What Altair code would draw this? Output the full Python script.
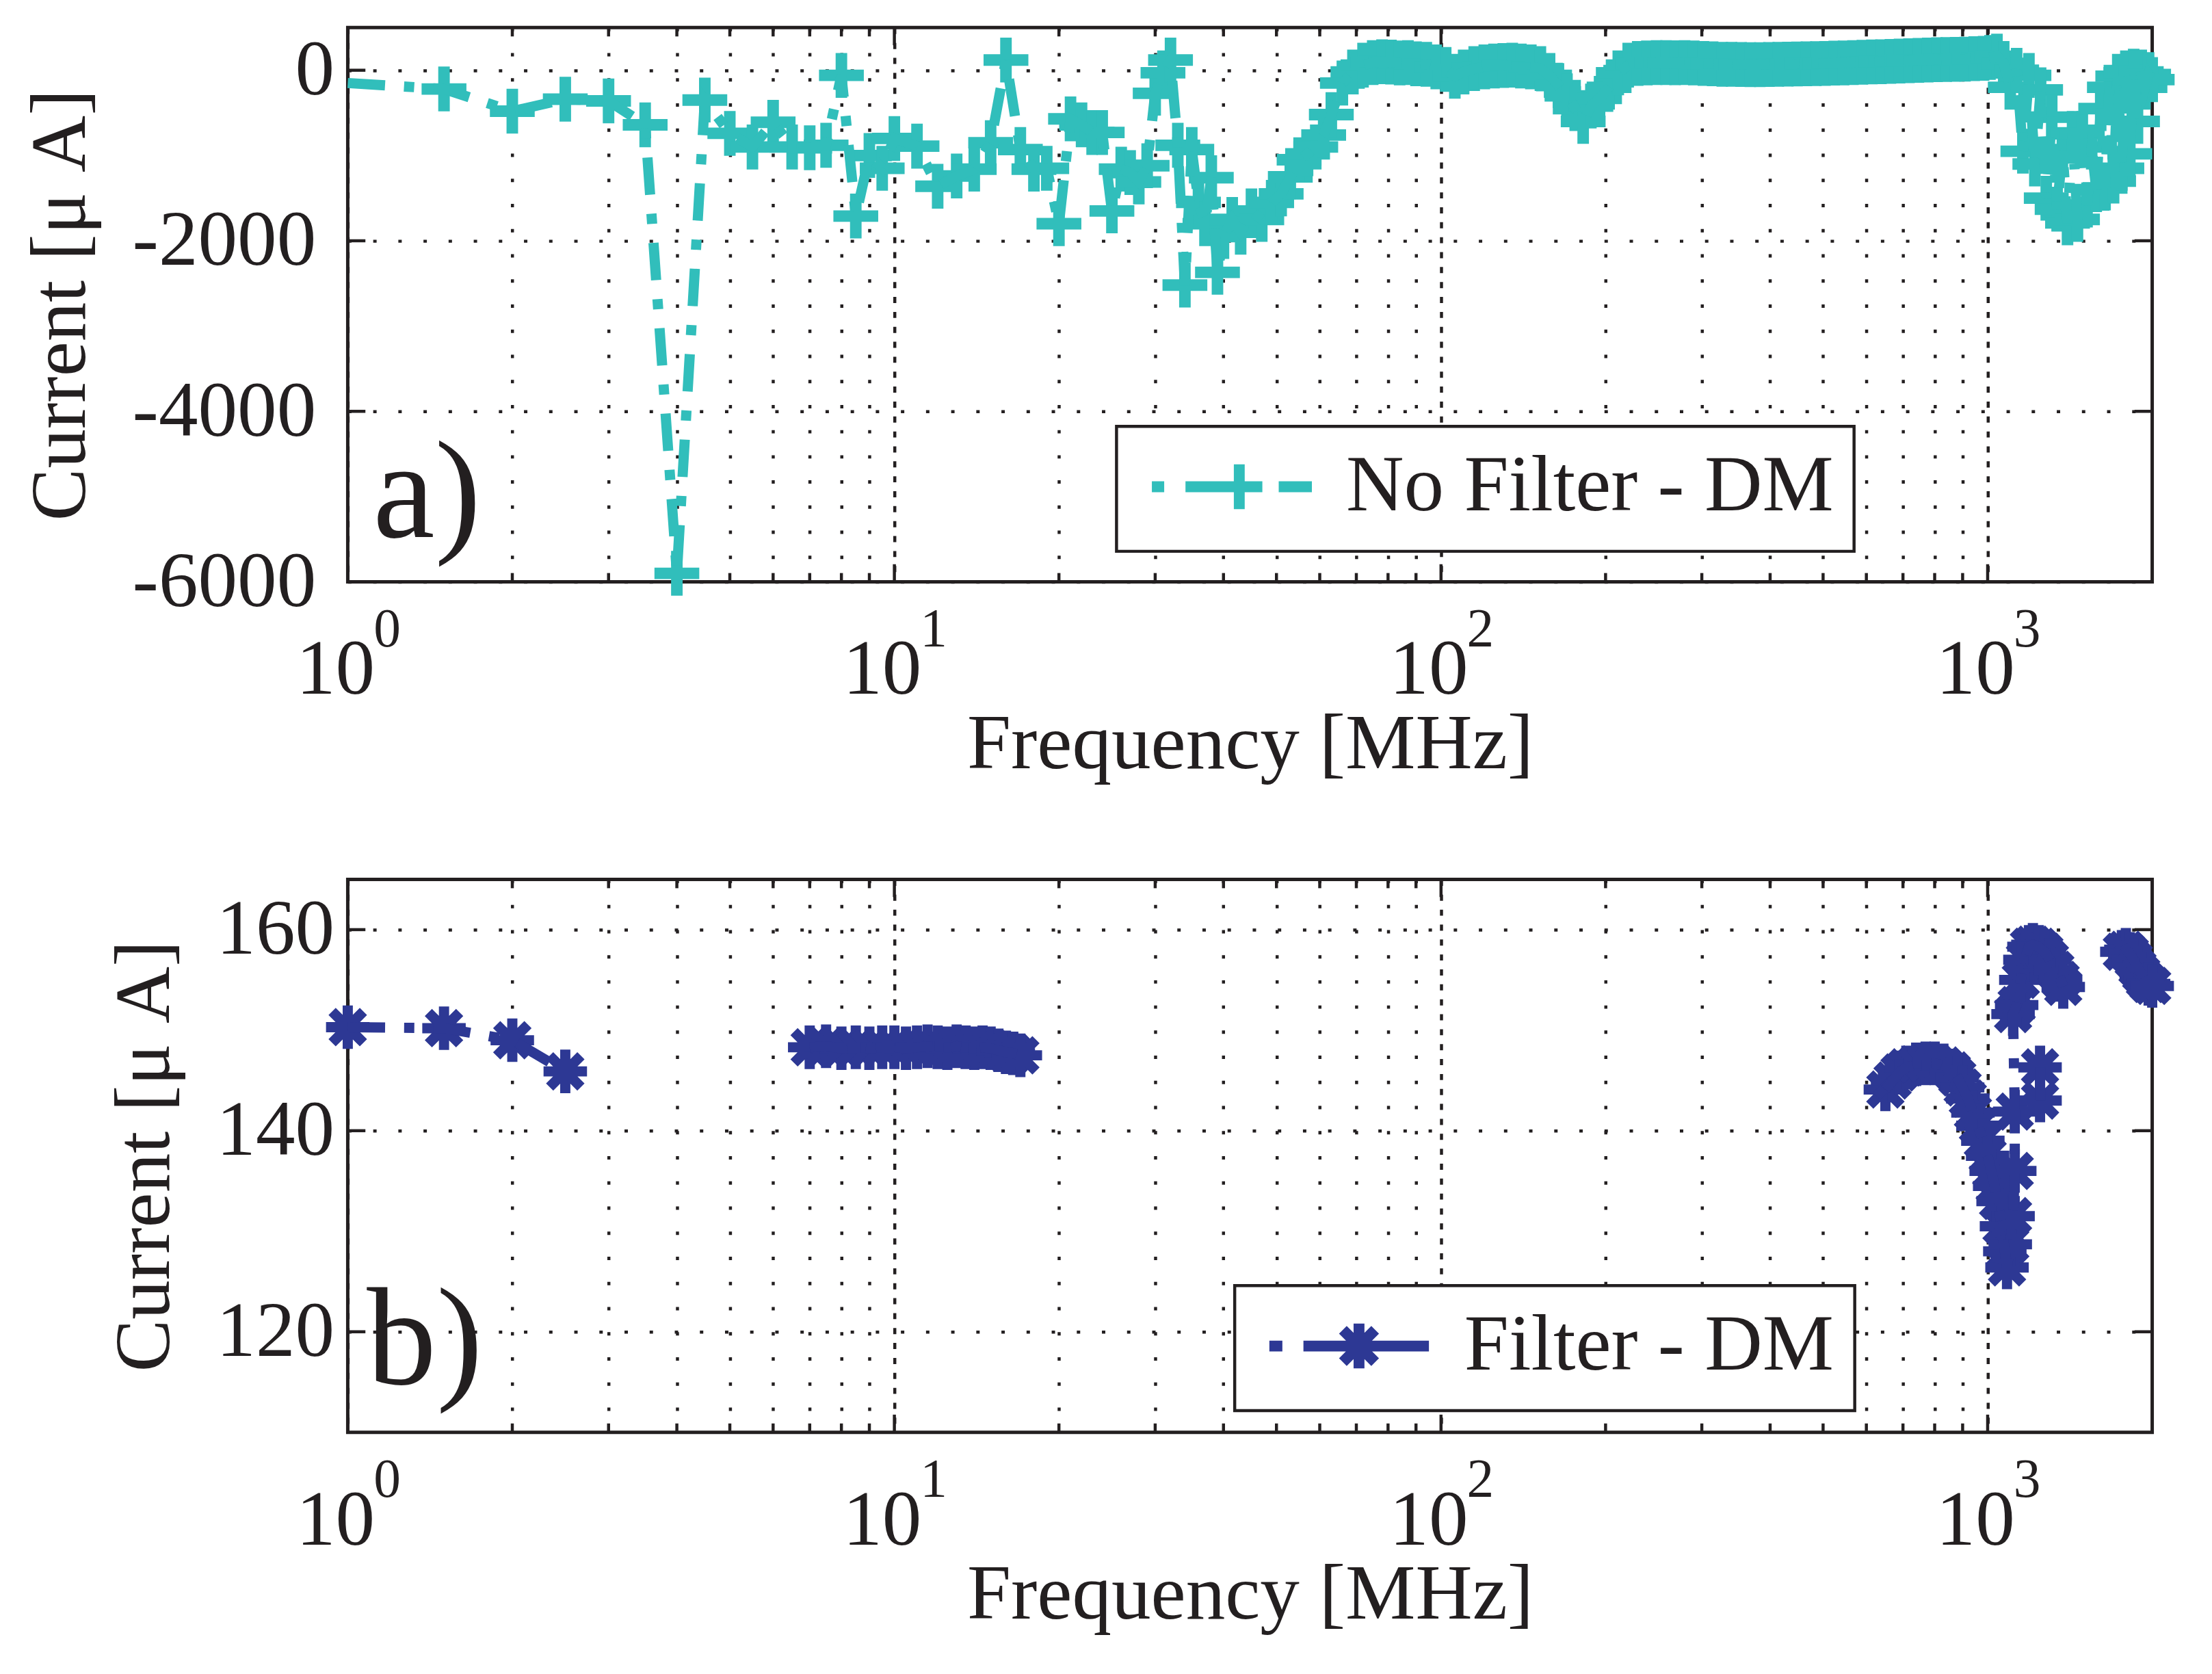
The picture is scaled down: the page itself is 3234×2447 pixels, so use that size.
import altair as alt
import pandas as pd

# ---------------- data ----------------
# Panel a) : No Filter - DM   (frequency in MHz, current in uA)
nf_freq = [1, 1.5, 2, 2.5, 3, 3.5, 4, 4.5, 5, 5.5, 6, 6.5, 7, 7.5, 8, 8.5, 9, 9.5, 10,
           11, 12, 13, 14, 15, 16, 17, 18, 19, 20, 21, 22, 23, 24, 25, 26, 27, 28, 29, 30,
           31, 32, 33, 34, 35, 36, 37, 38, 39,
           40, 41.5, 43, 45, 47, 49, 51, 53, 55, 57, 59, 61, 63, 66, 69, 72, 75, 78, 81, 84,
           87, 90, 94, 98, 102, 106, 110, 115, 120, 125, 130, 135, 140, 146, 152, 158, 164,
           170, 176, 182, 188, 195, 203, 211, 220, 229, 238, 248, 258, 268, 279, 290, 302,
           314, 327, 340, 354, 368, 383, 398, 414, 431, 448, 466, 485, 504, 524, 545, 567,
           590, 614, 638, 664, 690, 718, 747, 777, 808, 840, 874, 909, 945, 983,
           1010, 1040, 1070, 1100, 1130, 1160, 1190, 1220, 1250, 1280, 1310, 1340, 1370,
           1400, 1430, 1460, 1490, 1520, 1550, 1580, 1610, 1640, 1670, 1700, 1730, 1760,
           1790, 1820, 1850, 1880, 1910, 1940, 1970, 2000]
nf_current = [-150, -220, -480, -340, -360, -640, -5900, -350, -740, -900, -610, -900, -910, -880,
              -60, -1710, -1000, -1150, -800,
              -890, -1360, -1240, -1160, -850, 120, -930, -1160, -1150, -1800, -570, -640, -730,
              -730, -1650, -1160, -1200, -1310, -1120, -270,
              -30, 120, -880, -2520, -930, -1550, -1800, -1260, -2370,
              -1950, -1750, -1900, -1650, -1750, -1550, -1450, -1250, -1050, -980, -900, -760,
              -520, -150, -20, 60, 90, 100, 95, 85,
              90, 75, 70, 40, 10, -70, -20, 20, 40, 50, 55, 60, 50, 40, 20, -60, -180,
              -300, -450, -600, -420, -330, -200, -30, 60, 80, 85, 90, 90, 88, 90, 85, 80,
              75, 70, 70, 68, 65, 66, 68, 70, 72, 74, 76, 78, 80, 83, 86, 90,
              93, 97, 100, 104, 108, 112, 116, 120, 123, 126, 128, 130, 135, 140,
              150, 165, 80, -200, 0, -950, -60, -1100, -230, -1500, -550, -1630, -930,
              -1790, -740, -1750, -740, -1580, -900, -1400, -450, -1380, -200, -1300, -70, -1150,
              -30, -980, -10, -600, -20, -200, -50, -110]

# Panel b) : Filter - DM, measured in separate runs (gaps between runs)
f_run1 = [1, 1.5, 2, 2.5]
c_run1 = [150.3, 150.2, 149.0, 145.9]
f_run2 = [7, 7.5, 8, 8.5, 9, 9.5, 10, 10.5, 11, 11.5, 12, 12.5, 13, 13.5, 14, 14.5,
          15, 15.5, 16, 16.5, 17]
c_run2 = [148.3, 148.4, 148.2, 148.3, 148.2, 148.3, 148.3, 148.2, 148.3, 148.4, 148.3,
          148.2, 148.4, 148.3, 148.2, 148.3, 148.2, 148.0, 147.8, 147.7, 147.5]
f_run3 = [650, 670, 690, 710, 740, 770, 800, 830, 860, 880, 900, 920, 940, 960, 980,
          1000, 1015, 1030, 1045, 1060, 1075, 1085, 1100, 1113, 1121, 1121, 1113,
          1130, 1150, 1170, 1190, 1210, 1240, 1270, 1300, 1330, 1360, 1375]
c_run3 = [144.1, 145.0, 145.8, 146.3, 146.6, 146.7, 146.7, 146.5, 146.0, 145.3, 144.3,
          143.2, 141.8, 140.5, 139.0, 137.5, 136.0, 134.5, 133.0, 130.5, 128.0, 126.4,
          128.7, 131.5, 136.0, 141.9, 151.6,
          152.5, 155.0, 157.0, 158.3, 158.5, 158.3, 157.8, 157.0, 156.0, 155.0, 154.3]
f_run4 = [1247, 1247]
c_run4 = [143.0, 146.3]
f_run5 = [1760, 1790, 1820, 1850, 1880, 1910, 1940, 1970, 2000]
c_run5 = [157.8, 158.0, 157.6, 157.0, 156.2, 155.6, 155.0, 154.6, 154.4]

series_a = "No Filter - DM"
series_b = "Filter - DM"

x_major = [1, 10, 100, 1000]
x_exp = ["0", "1", "2", "3"]
x_minor = [2, 3, 4, 5, 6, 7, 8, 9, 20, 30, 40, 50, 60, 70, 80, 90,
           200, 300, 400, 500, 600, 700, 800, 900]
y_ticks_a = [-6000, -4000, -2000, 0]
y_ticks_b = [120, 140, 160]

# ---------------- style ----------------
TEAL = "#31BEBB"
NAVY = "#2D3894"
INK = "#231F20"
FONT = "Liberation Serif"
W = 2657
H1 = 816
H2 = 814
FS = 116

PLUS = "M-1,0H1M0,-1V1"
STAR = "M-1,0H1M0,-1V1M-0.72,-0.72L0.72,0.72M-0.72,0.72L0.72,-0.72"
LEG_PLUS = "M-1.12,0H-0.57M0.38,0H3.81M4.54,0H6.02M2.78,-1V1"
LEG_STAR = ("M-1.15,0H-0.57M0.37,0H5.97M2.85,-1V1"
            "M2.13,-0.72L3.57,0.72M2.13,0.72L3.57,-0.72")

xscale = alt.Scale(type="log", domain=[1, 2000], nice=False)
xaxis = alt.Axis(
    values=x_major + x_minor, grid=True,
    gridDash={"condition": {"test": "indexof([1,10,100,1000], datum.value) >= 0",
                            "value": [9, 13]}, "value": [5, 32]},
    gridColor=INK, gridWidth=4.5, gridOpacity=1,
    labels=False, ticks=False, tickSize=0, domain=False,
    title="Frequency [MHz]", titleFont=FONT, titleFontSize=FS, titleFontWeight="normal",
    titleColor=INK, titlePadding=182, titleLimit=0)
X = alt.X("f:Q", scale=xscale, axis=xaxis, title="Frequency [MHz]")


def make_panel(df, color, name, marker, msize, mwidth, leg_path, ydomain, yticks,
               H, legx, legy, label_text, lab_x, lab_y, first_marker):
    yscale = alt.Scale(domain=ydomain, nice=False, zero=False)
    yaxis = alt.Axis(values=yticks, grid=True, gridDash=[5, 32], gridColor=INK,
                     gridWidth=4.5, gridOpacity=1, domain=False, ticks=False, tickSize=0,
                     labelFont=FONT, labelFontSize=FS, labelColor=INK,
                     labelPadding={"condition": {"test": "datum.value < 0", "value": 47},
                                   "value": 20},
                     labelFlush=False, labelOverlap=False, labelLimit=0,
                     labelExpr="toString(datum.value)",
                     maxExtent=2000,
                     title="Current [μ A]", titleFont=FONT, titleFontSize=FS,
                     titleFontWeight="normal", titleColor=INK, titlePadding=46, titleLimit=0)
    Y = alt.Y("v:Q", scale=yscale, axis=yaxis, title="Current [μ A]")
    legend = alt.Legend(title=None, orient="none", legendX=legx, legendY=legy,
                        symbolType=leg_path, symbolSize=4356, symbolStrokeWidth=16,
                        symbolStrokeColor=color, symbolFillColor="transparent",
                        symbolDash=[1000, 0], symbolOpacity=1,
                        labelFont=FONT, labelFontSize=118, labelColor=INK, labelLimit=0,
                        labelOffset=190, padding=30, strokeColor=INK, fillColor="white")
    C = alt.Color("s:N", scale=alt.Scale(domain=[name], range=[color]), legend=legend)

    df_xmaj = pd.DataFrame({"f": x_major, "e": x_exp})
    df_xmin = pd.DataFrame({"f": x_minor})
    df_yt = pd.DataFrame({"v": yticks})

    pts = alt.Chart(df).mark_point(shape=marker, filled=False, size=msize, strokeWidth=mwidth,
                                   opacity=1).encode(x=X, y=Y, color=C)
    if not first_marker:
        pts = pts.transform_filter("datum.i > 0 || datum.seg > 0")

    tick_style = dict(color=INK, strokeWidth=4.5)
    layers = [
        alt.Chart(df_xmaj).mark_rule(**tick_style).encode(x=X, y=alt.value(H), y2=alt.value(H - 26)),
        alt.Chart(df_xmaj).mark_rule(**tick_style).encode(x=X, y=alt.value(0), y2=alt.value(26)),
        alt.Chart(df_xmin).mark_rule(**tick_style).encode(x=X, y=alt.value(H), y2=alt.value(H - 13)),
        alt.Chart(df_xmin).mark_rule(**tick_style).encode(x=X, y=alt.value(0), y2=alt.value(13)),
        alt.Chart(df_yt).mark_rule(**tick_style).encode(y=Y, x=alt.value(0), x2=alt.value(26)),
        alt.Chart(df_yt).mark_rule(**tick_style).encode(y=Y, x=alt.value(W), x2=alt.value(W - 26)),
        pts,
        alt.Chart(df).mark_line(strokeWidth=15, strokeDash=[55, 28, 15, 28]).encode(
            x=X, y=Y, color=C, detail="seg:N", order="i:Q"),
        alt.Chart(df_xmaj).mark_text(text="10", align="right", baseline="alphabetic", dx=40,
                                     font=FONT, fontSize=FS, color=INK).encode(
            x=X, y=alt.value(H + 165)),
        alt.Chart(df_xmaj).mark_text(align="left", baseline="alphabetic", dx=38,
                                     font=FONT, fontSize=80, color=INK).encode(
            x=X, y=alt.value(H + 95), text="e:N"),
        alt.Chart(pd.DataFrame({"t": [label_text]})).mark_text(
            align="left", baseline="alphabetic", font=FONT, fontSize=205, color=INK).encode(
            text="t:N", x=alt.value(lab_x), y=alt.value(lab_y)),
    ]
    return alt.layer(*layers).properties(width=W, height=H)


df_a = pd.DataFrame({"f": nf_freq, "v": nf_current, "s": series_a, "seg": 0,
                     "i": list(range(len(nf_freq)))})

parts = []
for k, (fr, cu) in enumerate([(f_run1, c_run1), (f_run2, c_run2), (f_run3, c_run3),
                              (f_run4, c_run4), (f_run5, c_run5)]):
    parts.append(pd.DataFrame({"f": fr, "v": cu, "s": series_b, "seg": k,
                               "i": list(range(len(fr)))}))
df_b = pd.concat(parts, ignore_index=True)

top = make_panel(df_a, TEAL, series_a, PLUS, 4356, 17, LEG_PLUS, [-6000, 500], y_ticks_a,
                 H1, 1132, 587, "a)", 37, 750, False)
bottom = make_panel(df_b, NAVY, series_b, STAR, 4096, 15, LEG_STAR, [110, 165], y_ticks_b,
                    H2, 1306, 598, "b)", 28, 743, True)

chart = alt.vconcat(top, bottom, spacing=133).resolve_scale(
    color="independent").resolve_legend(color="independent").properties(
    padding={"left": 20, "top": -4, "right": 10, "bottom": 10},
    background="white",
).configure_view(stroke=INK, strokeWidth=5).configure_legend(strokeWidth=4.5)

chart.save("out.html", embed_options={"renderer": "svg", "actions": False})
